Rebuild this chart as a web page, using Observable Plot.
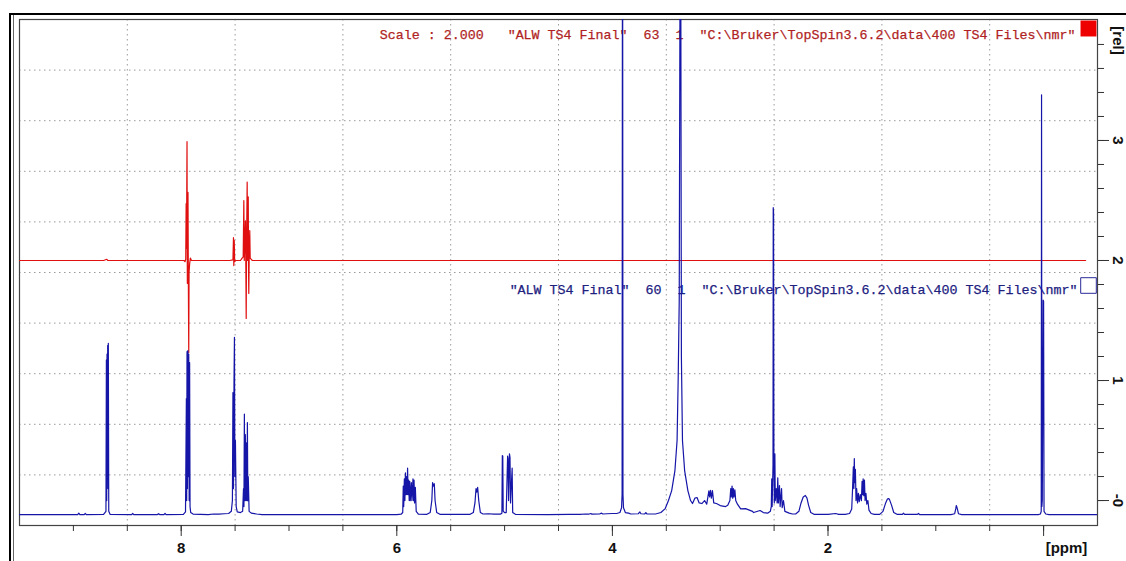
<!DOCTYPE html>
<html><head><meta charset="utf-8">
<script src="https://cdn.jsdelivr.net/npm/d3@7"></script>
<script src="https://cdn.jsdelivr.net/npm/@observablehq/plot@0.6"></script>
<style>
html,body{margin:0;padding:0;background:#fff;}
#wrap{position:relative;width:1126px;height:561px;overflow:hidden;}
#wrap svg{position:absolute;left:0;top:0;}
#wrap svg text{white-space:pre;}
.deco{position:absolute;background:#000;}
</style></head><body>
<div id="wrap">
<div class="deco" style="left:9px;top:13px;width:1117px;height:2px"></div>
<div class="deco" style="left:9px;top:13px;width:2px;height:548px"></div>
<div class="deco" style="left:13px;top:15px;width:1px;height:546px;background:#666"></div>
</div>
<script>
// chemical shift axis (ppm) and relative intensity axis
const xMinorTicks = [9,8.5,8,7.5,7,6.5,6,5.5,5,4.5,4,3.5,3,2.5,2,1.5,1,0.5,0];
const xMajorTicks = [8,6,4,2,0];
const xTickLabels = [8,6,4,2];
const yMinorTicks = [0,0.2,0.4,0.6,0.8,1,1.2,1.4,1.6,1.8,2,2.2,2.4,2.6,2.8,3,3.2,3.4,3.6,3.8];
const yMajorTicks = [0,1,2,3];
const yTickLabels = [0,1,2,3];
const xGrid = [8.5,7.5,6.5,5.5,4.5,3.5,2.5,1.5,0.5];

const redLabel = 'Scale : 2.000   "ALW TS4 Final"  63  1  "C:\\Bruker\\TopSpin3.6.2\\data\\400 TS4 Files\\nmr"';
const blueLabel = '"ALW TS4 Final"  60  1  "C:\\Bruker\\TopSpin3.6.2\\data\\400 TS4 Files\\nmr"';

// blue spectrum (experiment 60): [ppm, intensity]
const blueSpectrum = [
 [9.50,-0.117],[9.00,-0.117],[8.96,-0.117],[8.95,-0.105],[8.94,-0.117],[8.90,-0.117],[8.89,-0.108],[8.88,-0.117],
 [8.72,-0.115],[8.698,-0.09],[8.694,1.17],[8.691,0.0],[8.688,1.22],[8.685,0.2],[8.682,1.29],[8.679,0.1],[8.676,1.31],[8.672,-0.09],[8.66,-0.115],
 [8.46,-0.117],[8.45,-0.108],[8.44,-0.117],
 [8.22,-0.117],[8.21,-0.11],[8.20,-0.117],[8.16,-0.117],[8.15,-0.108],[8.14,-0.117],
 [7.98,-0.115],[7.96,-0.095],[7.952,0.85],[7.949,0.0],[7.946,1.24],[7.942,0.1],[7.938,1.25],[7.934,0.2],[7.930,1.22],[7.926,0.0],[7.922,1.15],[7.918,-0.05],[7.912,-0.10],[7.89,-0.113],
 [7.75,-0.117],[7.70,-0.112],[7.65,-0.114],[7.60,-0.110],[7.56,-0.108],
 [7.535,-0.09],[7.525,0.0],[7.52,0.9],[7.515,0.1],[7.51,1.0],[7.506,1.36],[7.502,0.2],[7.497,0.5],[7.49,-0.05],[7.48,-0.095],
 [7.45,-0.10],[7.43,-0.09],[7.422,0.1],[7.418,-0.05],[7.414,0.72],[7.41,0.0],[7.405,0.55],[7.40,0.0],[7.395,0.48],[7.39,0.0],[7.386,0.65],[7.382,0.0],[7.378,0.2],[7.37,-0.09],[7.35,-0.105],[7.30,-0.112],[7.25,-0.117],
 [6.00,-0.117],[5.96,-0.114],[5.945,-0.10],[5.94,0.12],[5.936,-0.05],[5.93,0.18],[5.925,0.0],[5.92,0.23],[5.915,0.05],[5.91,0.20],[5.905,0.05],[5.90,0.27],[5.895,0.05],[5.89,0.17],[5.885,0.0],[5.88,0.16],[5.875,0.0],[5.865,0.15],[5.86,0.0],[5.85,0.18],[5.845,0.0],[5.84,0.17],[5.835,-0.02],[5.828,0.11],[5.82,-0.09],[5.80,-0.113],
 [5.72,-0.115],[5.69,-0.10],[5.675,0.0],[5.668,0.15],[5.66,0.12],[5.652,0.14],[5.645,0.0],[5.63,-0.10],[5.60,-0.115],
 [5.32,-0.115],[5.29,-0.10],[5.275,-0.02],[5.265,0.10],[5.258,0.07],[5.25,0.11],[5.24,0.0],[5.225,-0.10],[5.20,-0.112],[5.15,-0.11],[5.10,-0.113],
 [5.04,-0.114],[5.025,-0.105],[5.021,0.375],[5.017,0.37],[5.013,-0.09],[5.0,-0.10],[4.985,-0.10],[4.972,0.37],[4.968,0.35],[4.963,0.0],[4.955,0.39],[4.950,0.36],[4.945,-0.02],[4.930,0.27],[4.925,-0.10],[4.90,-0.115],
 [4.60,-0.117],[4.40,-0.116],[4.30,-0.115],[4.25,-0.112],[4.22,-0.114],[4.20,-0.108],[4.19,-0.114],[4.12,-0.112],[4.10,-0.105],[4.09,-0.112],[4.05,-0.110],[4.00,-0.108],[3.96,-0.108],
 [3.93,-0.10],[3.915,-0.06],[3.910,0.05],[3.907,4.6],[3.905,4.6],[3.902,0.05],[3.897,-0.06],[3.88,-0.10],[3.85,-0.105],[3.83,-0.112],[3.76,-0.110],[3.745,-0.095],[3.735,-0.110],[3.70,-0.112],[3.69,-0.10],[3.68,-0.112],[3.60,-0.112],
 [3.55,-0.10],[3.51,-0.067],[3.48,0.0],[3.45,0.083],[3.42,0.25],[3.40,0.5],[3.39,1.0],[3.38,1.67],[3.372,4.6],[3.366,4.6],[3.36,1.2],[3.35,0.5],[3.33,0.25],[3.30,0.083],[3.275,0.0],[3.257,-0.025],
 [3.235,0.02],[3.215,0.025],[3.195,-0.02],[3.17,-0.025],[3.145,0.0],[3.125,-0.03],[3.105,0.08],[3.098,0.03],[3.090,0.085],[3.082,0.02],[3.072,0.083],[3.06,-0.02],[3.035,-0.025],[3.0,-0.042],[2.95,-0.05],[2.93,-0.04],
 [2.91,0.0],[2.902,0.1],[2.897,0.03],[2.890,0.12],[2.884,0.02],[2.878,0.1],[2.872,0.03],[2.864,0.09],[2.856,0.0],[2.84,-0.03],[2.81,-0.07],[2.765,-0.067],[2.70,-0.09],[2.69,-0.10],[2.63,-0.083],
 [2.60,-0.10],[2.56,-0.105],[2.535,-0.09],[2.526,-0.05],[2.522,0.18],[2.518,-0.05],[2.510,0.3],[2.508,2.44],[2.505,2.40],[2.502,0.4],[2.498,-0.02],[2.493,0.39],[2.489,0.0],[2.480,0.1],[2.472,-0.02],[2.466,0.19],[2.460,-0.02],[2.450,0.125],[2.444,-0.05],[2.431,0.10],[2.425,-0.06],[2.413,0.0],[2.40,-0.09],[2.36,-0.105],[2.33,-0.112],
 [2.30,-0.112],[2.27,-0.09],[2.25,-0.02],[2.23,0.03],[2.21,0.042],[2.195,0.02],[2.18,-0.04],[2.16,-0.10],[2.13,-0.115],
 [2.00,-0.115],[1.93,-0.108],[1.90,-0.115],
 [1.84,-0.115],[1.80,-0.108],[1.78,-0.07],[1.772,0.1],[1.765,0.28],[1.760,0.1],[1.756,0.35],[1.752,0.15],[1.746,0.26],[1.740,0.0],[1.734,0.1],[1.726,-0.02],[1.718,0.06],[1.710,-0.01],[1.700,0.05],[1.690,0.0],[1.684,0.16],[1.679,0.05],[1.674,0.18],[1.668,0.04],[1.662,0.17],[1.656,0.0],[1.648,0.06],[1.640,-0.03],[1.630,0.0],[1.620,-0.08],[1.60,-0.108],[1.57,-0.115],
 [1.52,-0.115],[1.49,-0.09],[1.465,-0.02],[1.45,0.01],[1.44,0.017],[1.43,0.01],[1.41,-0.04],[1.39,-0.10],[1.36,-0.115],
 [1.31,-0.115],[1.30,-0.105],[1.29,-0.115],[1.17,-0.115],[1.16,-0.108],[1.15,-0.117],
 [0.86,-0.117],[0.825,-0.11],[0.815,-0.07],[0.810,-0.042],[0.806,-0.05],[0.800,-0.07],[0.790,-0.11],[0.76,-0.117],
 [0.05,-0.117],[0.03,-0.112],[0.022,-0.09],[0.019,3.38],[0.016,-0.05],[0.012,0.0],[0.004,1.67],[0.0,1.66],[-0.004,-0.09],[-0.02,-0.112],[-0.05,-0.117],[-0.50,-0.117]
];

// red spectrum (experiment 63, scale 2.000): [ppm, intensity]
const redSpectrum = [
 [9.50,2.0],[8.72,2.0],[8.69,2.01],[8.68,2.0],
 [8.00,2.0],[7.975,2.0],[7.965,1.99],[7.958,2.01],[7.954,2.475],[7.951,2.1],[7.946,2.99],[7.943,1.81],[7.940,2.2],[7.937,2.567],[7.934,1.9],[7.930,1.233],[7.927,1.9],[7.922,1.97],[7.915,2.02],[7.905,2.0],
 [7.55,2.0],[7.52,2.005],[7.515,2.19],[7.512,1.958],[7.508,2.167],[7.504,1.99],[7.495,2.0],
 [7.45,2.0],[7.435,2.02],[7.425,2.03],[7.419,2.5],[7.415,2.0],[7.404,2.33],[7.400,1.9],[7.397,1.517],[7.394,2.1],[7.388,2.653],[7.384,2.0],[7.378,2.53],[7.375,1.9],[7.373,1.725],[7.369,2.05],[7.364,2.25],[7.360,2.02],[7.35,2.01],[7.34,2.0],
 [-0.39,2.0]
];

const fontSans = "Liberation Sans, Arial, sans-serif";
const fontMono = "Liberation Mono, Courier New, monospace";

const chart = Plot.plot({
  width: 1126, height: 561,
  marginLeft: 19, marginTop: 19, marginRight: 29, marginBottom: 36,
  style: {background: "transparent", fontFamily: fontSans, overflow: "visible"},
  x: {domain: [9.5, -0.5]},
  y: {domain: [-0.208, 4.008]},
  marks: [
    Plot.gridX(xGrid, {stroke: "#9a9a9a", strokeOpacity: 1, strokeDasharray: "1.5,3.5"}),
    Plot.gridY({length: 9}, {y: (d, i) => -0.208 + (i + 1) * 0.4216, stroke: "#9a9a9a", strokeOpacity: 1, strokeDasharray: "1.5,3.5"}),
    Plot.frame({stroke: "#444", strokeWidth: 1.2}),
    Plot.text([redLabel], {frameAnchor: "top-right", dx: -22, dy: 15, text: d => d, textAnchor: "end", lineAnchor: "middle", fill: "#b01f24", stroke: "#b01f24", strokeWidth: 0.25, fontFamily: fontMono, fontSize: 13.33}),
    Plot.text([blueLabel], {frameAnchor: "top-right", dx: -20, dy: 270, text: d => d, textAnchor: "end", lineAnchor: "middle", fill: "#20207f", stroke: "#20207f", strokeWidth: 0.25, fontFamily: fontMono, fontSize: 13.33}),
    Plot.dot([0], {frameAnchor: "top-right", dx: -9, dy: 9, symbol: "square", r: 9, fill: "#ee0000", stroke: "none"}),
    Plot.dot([0], {frameAnchor: "top-right", dx: -9, dy: 266, symbol: "square", r: 8.8, fill: "none", stroke: "#2a2a9a", strokeWidth: 1}),
    Plot.line(redSpectrum, {x: d => d[0], y: d => d[1], stroke: "#e01010", strokeWidth: 1.2, clip: true}),
    Plot.line(blueSpectrum, {x: d => d[0], y: d => d[1], stroke: "#1515a8", strokeWidth: 1.2, clip: true}),
    Plot.axisX(xMinorTicks, {anchor: "bottom", tickSize: 6, tickFormat: () => "", stroke: "#333", label: null}),
    Plot.axisX(xMajorTicks, {anchor: "bottom", tickSize: 11, tickFormat: () => "", stroke: "#333", label: null}),
    Plot.text(xTickLabels, {x: d => d, frameAnchor: "bottom", dy: 23, text: d => String(d), textAnchor: "middle", lineAnchor: "middle", fontWeight: "bold", fontSize: 15, fill: "#111"}),
    Plot.text(["[ppm]"], {frameAnchor: "bottom-right", dx: -31, dy: 23, text: d => d, textAnchor: "middle", lineAnchor: "middle", fontWeight: "bold", fontSize: 15, fill: "#111"}),
    Plot.axisY(yMinorTicks, {anchor: "right", tickSize: 6, tickFormat: () => "", stroke: "#333", label: null}),
    Plot.axisY(yMajorTicks, {anchor: "right", tickSize: 11, tickFormat: () => "", stroke: "#333", label: null}),
    Plot.text(yTickLabels, {y: d => d, frameAnchor: "right", dx: 20, rotate: 90, text: d => d === 0 ? "-0" : String(d), textAnchor: "middle", lineAnchor: "middle", fontWeight: "bold", fontSize: 15, fill: "#111"}),
    Plot.text(["[rel]"], {frameAnchor: "top-right", dx: 20, dy: 21, rotate: 90, text: d => d, textAnchor: "middle", lineAnchor: "middle", fontWeight: "bold", fontSize: 15, fill: "#111"})
  ]
});
document.getElementById("wrap").prepend(chart);
</script>
</body></html>
